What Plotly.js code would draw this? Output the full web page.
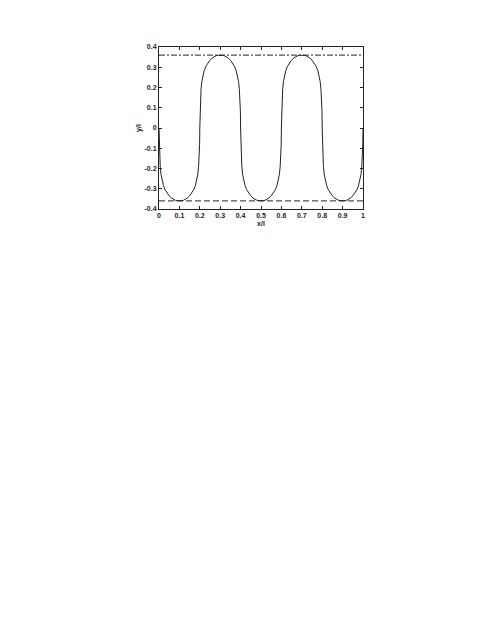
<!DOCTYPE html>
<html>
<head>
<meta charset="utf-8">
<script src="https://cdn.plot.ly/plotly-3.0.1.min.js"></script>
<style>
  html, body { margin: 0; padding: 0; background: #ffffff; }
  #chart { width: 491px; height: 635px; }
</style>
</head>
<body>
<div id="chart"></div>
<script>
// curve, one lobe per row
const xVals = [
  0, 0.001, 0.003, 0.006, 0.01, 0.015, 0.022, 0.03, 0.04, 0.05, 0.06, 0.07, 0.08, 0.09, 0.1, 0.11, 0.12, 0.13, 0.14, 0.15, 0.16, 0.17, 0.178, 0.185, 0.19, 0.194, 0.197, 0.199,
  0.2, 0.201, 0.203, 0.206, 0.21, 0.215, 0.222, 0.23, 0.24, 0.25, 0.26, 0.27, 0.28, 0.29, 0.3, 0.31, 0.32, 0.33, 0.34, 0.35, 0.36, 0.37, 0.378, 0.385, 0.39, 0.394, 0.397, 0.399,
  0.4, 0.401, 0.403, 0.406, 0.41, 0.415, 0.422, 0.43, 0.44, 0.45, 0.46, 0.47, 0.48, 0.49, 0.5, 0.51, 0.52, 0.53, 0.54, 0.55, 0.56, 0.57, 0.578, 0.585, 0.59, 0.594, 0.597, 0.599,
  0.6, 0.601, 0.603, 0.606, 0.61, 0.615, 0.622, 0.63, 0.64, 0.65, 0.66, 0.67, 0.68, 0.69, 0.7, 0.71, 0.72, 0.73, 0.74, 0.75, 0.76, 0.77, 0.778, 0.785, 0.79, 0.794, 0.797, 0.799,
  0.8, 0.801, 0.803, 0.806, 0.81, 0.815, 0.822, 0.83, 0.84, 0.85, 0.86, 0.87, 0.88, 0.89, 0.9, 0.91, 0.92, 0.93, 0.94, 0.95, 0.96, 0.97, 0.978, 0.985, 0.99, 0.994, 0.997, 0.999,
  1
];
const yVals = [
  0, -0.08, -0.14, -0.19, -0.23, -0.26, -0.285, -0.305, -0.322, -0.335, -0.345, -0.352, -0.357, -0.359, -0.36, -0.359, -0.357, -0.352, -0.345, -0.335, -0.322, -0.305, -0.285, -0.26, -0.23, -0.19, -0.14, -0.08,
  0, 0.08, 0.14, 0.19, 0.23, 0.26, 0.285, 0.305, 0.322, 0.335, 0.345, 0.352, 0.357, 0.359, 0.36, 0.359, 0.357, 0.352, 0.345, 0.335, 0.322, 0.305, 0.285, 0.26, 0.23, 0.19, 0.14, 0.08,
  0, -0.08, -0.14, -0.19, -0.23, -0.26, -0.285, -0.305, -0.322, -0.335, -0.345, -0.352, -0.357, -0.359, -0.36, -0.359, -0.357, -0.352, -0.345, -0.335, -0.322, -0.305, -0.285, -0.26, -0.23, -0.19, -0.14, -0.08,
  0, 0.08, 0.14, 0.19, 0.23, 0.26, 0.285, 0.305, 0.322, 0.335, 0.345, 0.352, 0.357, 0.359, 0.36, 0.359, 0.357, 0.352, 0.345, 0.335, 0.322, 0.305, 0.285, 0.26, 0.23, 0.19, 0.14, 0.08,
  0, -0.08, -0.14, -0.19, -0.23, -0.26, -0.285, -0.305, -0.322, -0.335, -0.345, -0.352, -0.357, -0.359, -0.36, -0.359, -0.357, -0.352, -0.345, -0.335, -0.322, -0.305, -0.285, -0.26, -0.23, -0.19, -0.14, -0.08,
  0
];

const upperBound = 0.36;
const lowerBound = -0.36;

const xTickVals = [0, 0.1, 0.2, 0.3, 0.4, 0.5, 0.6, 0.7, 0.8, 0.9, 1];
const xTickText = ['0', '0.1', '0.2', '0.3', '0.4', '0.5', '0.6', '0.7', '0.8', '0.9', '1'];
const yTickVals = [-0.4, -0.3, -0.2, -0.1, 0, 0.1, 0.2, 0.3, 0.4];
const yTickText = ['-0.4', '-0.3', '-0.2', '-0.1', '0', '0.1', '0.2', '0.3', '0.4'];

const tickFont = { family: 'Liberation Sans, Arial, sans-serif', size: 7, color: '#222', weight: 'bold' };

const axisBase = {
  showgrid: false,
  zeroline: false,
  showline: true,
  linecolor: '#222',
  linewidth: 1,
  mirror: 'ticks',
  ticks: 'inside',
  ticklen: 3,
  tickwidth: 1,
  tickcolor: '#222',
  tickfont: tickFont,
  tickmode: 'array'
};

Plotly.newPlot('chart', [
  {
    x: [0, 1], y: [upperBound, upperBound], type: 'scatter', mode: 'lines',
    line: { color: '#222', width: 1, dash: '6px,2px,2px,2px' }, hoverinfo: 'skip'
  },
  {
    x: [0, 1], y: [lowerBound, lowerBound], type: 'scatter', mode: 'lines',
    line: { color: '#222', width: 1, dash: '6px,3px' }, hoverinfo: 'skip'
  },
  {
    x: xVals, y: yVals, type: 'scatter', mode: 'lines',
    line: { color: '#222', width: 1 }
  }
], {
  width: 491,
  height: 635,
  paper_bgcolor: '#ffffff',
  plot_bgcolor: '#ffffff',
  showlegend: false,
  margin: { l: 159, r: 128, t: 47, b: 426, pad: 0 },
  xaxis: {
    ...axisBase,
    range: [0, 1],
    tickvals: xTickVals,
    ticktext: xTickText,
    title: { text: 'x/l', font: tickFont, standoff: 2 }
  },
  yaxis: {
    ...axisBase,
    range: [-0.4, 0.4],
    tickvals: yTickVals,
    ticktext: yTickText,
    title: { text: 'y/l', font: tickFont, standoff: 2 }
  }
}, { staticPlot: true });
</script>
</body>
</html>
